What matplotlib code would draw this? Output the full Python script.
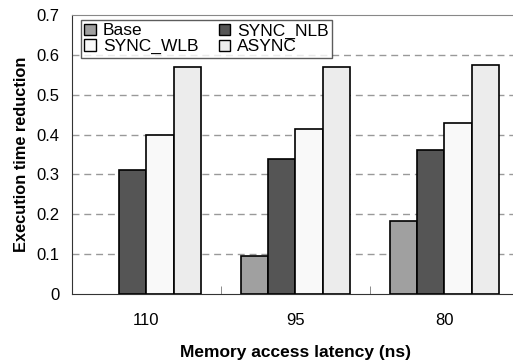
import matplotlib
matplotlib.use("Agg")
import matplotlib.pyplot as plt
from matplotlib.patches import Patch
import numpy as np

plt.rcParams['font.family'] = ['Liberation Sans', 'DejaVu Sans']

categories = ["110", "95", "80"]
series_names = ["Base", "SYNC_NLB", "SYNC_WLB", "ASYNC"]
base = [0.0, 0.095, 0.183]
sync_nlb = [0.311, 0.338, 0.362]
sync_wlb = [0.399, 0.414, 0.428]
async_ = [0.570, 0.570, 0.574]
values = [base, sync_nlb, sync_wlb, async_]
colors = ["#a0a0a0", "#555555", "#f9f9f9", "#ececec"]

W, H = 513, 360
fig = plt.figure(figsize=(W / 100, H / 100), dpi=100)
ax = fig.add_axes([72 / W, 1 - 294 / H, 447 / W, 279 / H])

n = len(categories)
x = np.arange(n)
bw = 0.183
for i, (name, vals, c) in enumerate(zip(series_names, values, colors)):
    bars = ax.bar(x + (i - 1.5) * bw, vals, bw, color=c, edgecolor="black",
                  linewidth=1.2, zorder=3)
    for b, v in zip(bars, vals):
        if v == 0:
            b.set_visible(False)

ax.set_xlim(-0.5, n - 0.5)
ax.set_ylim(0, 0.7)
ax.set_yticks(np.arange(0, 0.71, 0.1))
ax.set_yticklabels(["0", "0.1", "0.2", "0.3", "0.4", "0.5", "0.6", "0.7"], fontsize=12)
ax.tick_params(axis='y', length=0, pad=9)
ax.set_xticks(x)
ax.set_xticklabels(categories, fontsize=12)
ax.tick_params(axis='x', which='major', length=0, pad=14)
ax.set_xticks(np.arange(0.5, n - 0.5, 1), minor=True)
ax.tick_params(axis='x', which='minor', direction='in', length=6, color="#777777")

for yv in np.arange(0.1, 0.65, 0.1):
    ax.axhline(yv, color="#999999", linestyle=(0, (5, 3.5)), linewidth=1, zorder=1)

for s in ["top", "right"]:
    ax.spines[s].set_color("#888888")
ax.spines["left"].set_color("#333333")
ax.spines["bottom"].set_color("#333333")

ax.set_ylabel("Execution time reduction", fontsize=11.8, fontweight="bold", labelpad=5)
ax.set_xlabel("Memory access latency (ns)", fontsize=12.5, fontweight="bold", labelpad=12)

handles = [Patch(facecolor=c, edgecolor="black", linewidth=1) for c in colors]
order = [0, 2, 1, 3]
leg = ax.legend([handles[k] for k in order], [series_names[k] for k in order],
                ncol=2, loc="upper left", bbox_to_anchor=(9 / 447, 1 - 5 / 279),
                fontsize=12.5, frameon=True, fancybox=False, edgecolor="#333333",
                handlelength=0.65, handleheight=0.65, handletextpad=0.4,
                columnspacing=1.2, labelspacing=0.05, borderpad=0.2,
                borderaxespad=0)
leg.get_frame().set_linewidth(1)
leg.set_zorder(5)

fig.savefig("out.png", dpi=100)
